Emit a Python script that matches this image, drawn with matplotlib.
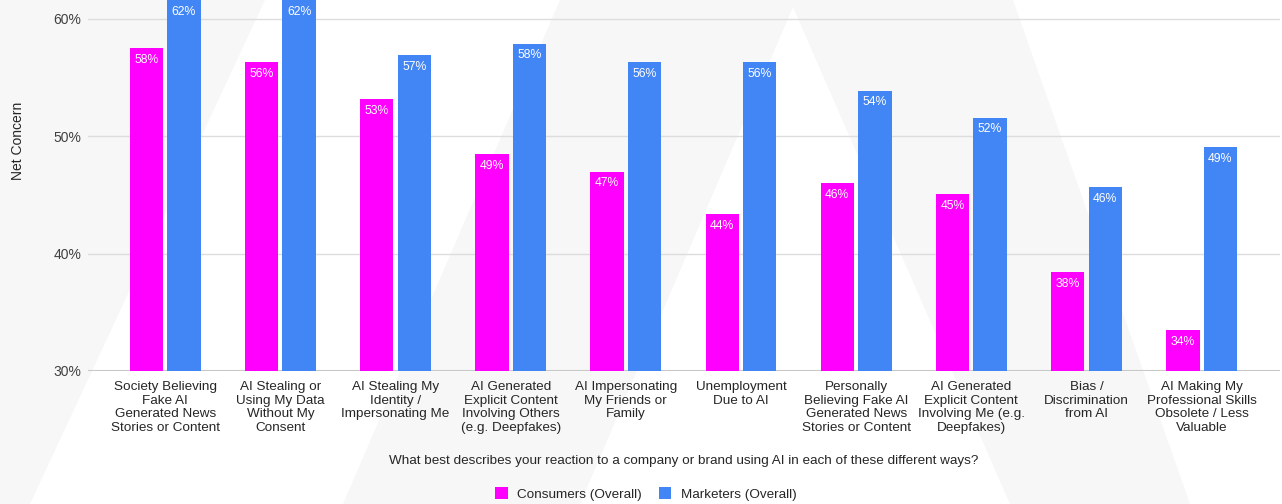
import matplotlib

matplotlib.use("Agg")
import matplotlib.pyplot as plt
from matplotlib.patches import Patch, Polygon
import numpy as np

plt.rcParams["font.family"] = ["Liberation Sans", "DejaVu Sans"]

# --- data ---
categories = [
    "Society Believing\nFake AI\nGenerated News\nStories or Content",
    "AI Stealing or\nUsing My Data\nWithout My\nConsent",
    "AI Stealing My\nIdentity /\nImpersonating Me",
    "AI Generated\nExplicit Content\nInvolving Others\n(e.g. Deepfakes)",
    "AI Impersonating\nMy Friends or\nFamily",
    "Unemployment\nDue to AI",
    "Personally\nBelieving Fake AI\nGenerated News\nStories or Content",
    "AI Generated\nExplicit Content\nInvolving Me (e.g.\nDeepfakes)",
    "Bias /\nDiscrimination\nfrom AI",
    "AI Making My\nProfessional Skills\nObsolete / Less\nValuable",
]
consumers = [57.5, 56.3, 53.2, 48.5, 47.0, 43.4, 46.0, 45.1, 38.4, 33.5]
marketers = [62.0, 62.0, 56.9, 57.9, 56.3, 56.3, 53.9, 51.6, 45.7, 49.1]
consumer_labels = ["58%", "56%", "53%", "49%", "47%", "44%", "46%", "45%", "38%", "34%"]
marketer_labels = ["62%", "62%", "57%", "58%", "56%", "56%", "54%", "52%", "46%", "49%"]
yticks = [30, 40, 50, 60]

PINK = "#ff00ff"
BLUE = "#4285f4"
TEXT = "#262626"

fig = plt.figure(figsize=(12.82, 5.04), dpi=100)
fig.patch.set_facecolor("white")

# faint watermark shapes in the background (figure pixel coords, y down)
W, H = 1282, 504
def fig_poly(pts, color="#f7f7f7"):
    xy = [(x / W, 1 - y / H) for x, y in pts]
    fig.patches.append(Polygon(xy, closed=True, transform=fig.transFigure,
                               facecolor=color, edgecolor="none", zorder=-10))

fig_poly([(0, 0), (265, 0), (30, 504), (0, 504)])
fig_poly([(560, 0), (1013, 0), (1190, 504), (1010, 504), (793, 7), (580, 504), (343, 504)])

ax = fig.add_axes([88 / W, 1 - 371 / H, (1280 - 88) / W, 371 / H])
ax.set_facecolor("none")

x = np.arange(len(categories))
bw = 0.29
off = 0.163
b1 = ax.bar(x - off, np.array(consumers) - 30, bw, bottom=30, color=PINK, zorder=3)
b2 = ax.bar(x + off, np.array(marketers) - 30, bw, bottom=30, color=BLUE, zorder=3)

ymax = 60 + 19 / 11.75
for bars, labels in ((b1, consumer_labels), (b2, marketer_labels)):
    for rect, lab in zip(bars, labels):
        top = min(rect.get_y() + rect.get_height(), ymax)
        ax.text(rect.get_x() + rect.get_width() / 2, top - 0.5, lab,
                ha="center", va="top", color="white", fontsize=8.8, zorder=4)

ax.set_xlim(-0.67, 9.68)
ax.set_ylim(30, ymax)
ax.set_yticks(yticks)
ax.set_yticklabels([f"{t}%" for t in yticks], fontsize=10, color="#404040")
ax.set_xticks(x)
ax.set_xticklabels(categories, fontsize=9.7, color=TEXT, linespacing=1.2)
ax.tick_params(axis="both", length=0)
ax.tick_params(axis="y", pad=5)
ax.tick_params(axis="x", pad=7)
ax.grid(axis="y", color="#dddddd", lw=1, zorder=0)
ax.axhline(30, color="#c8c8c8", lw=1.5, zorder=2)
for s in ax.spines.values():
    s.set_visible(False)

fig.text(18 / W, 1 - 141 / H, "Net Concern", rotation=90, ha="center", va="center",
         fontsize=10, color=TEXT)
fig.text(684 / W, 1 - 461 / H,
         "What best describes your reaction to a company or brand using AI in each of these different ways?",
         ha="center", va="center", fontsize=9.7, color=TEXT)

handles = [Patch(facecolor=PINK, label="Consumers (Overall)"),
           Patch(facecolor=BLUE, label="Marketers (Overall)")]
fig.legend(handles=handles, loc="center", bbox_to_anchor=(646 / W, 1 - 494 / H), ncol=2,
           frameon=False, fontsize=9.7, handlelength=0.9, handleheight=0.9,
           handletextpad=0.7, columnspacing=1.3, labelcolor=TEXT)

fig.savefig("out.png", dpi=100)
